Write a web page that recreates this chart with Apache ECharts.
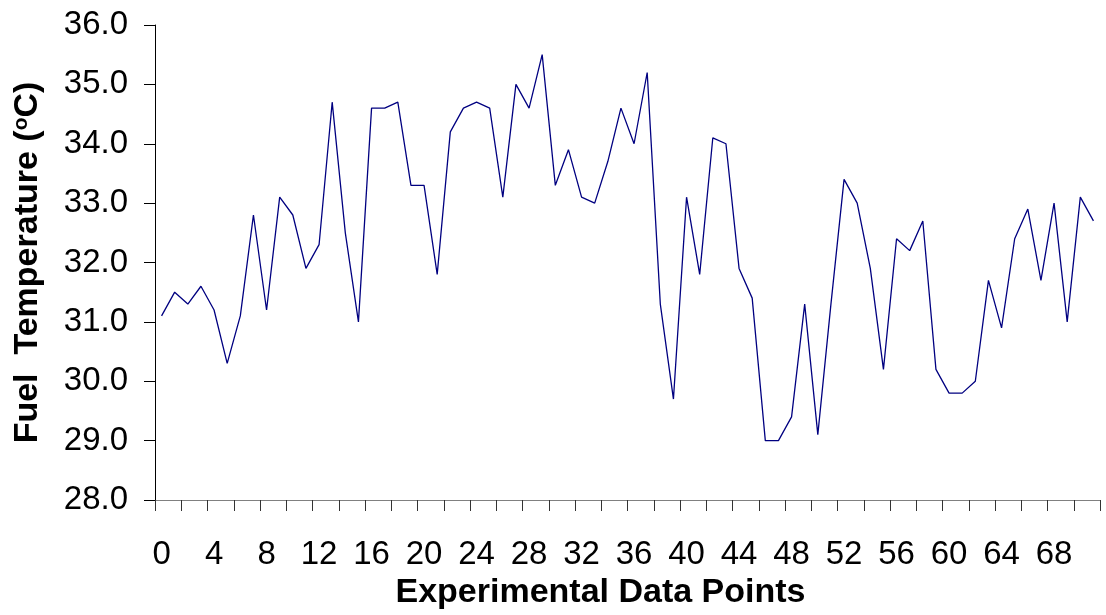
<!DOCTYPE html>
<html>
<head>
<meta charset="utf-8">
<title>Fuel Temperature</title>
<script src="https://cdn.jsdelivr.net/npm/echarts@6/dist/echarts.min.js"></script>
<style>
  html, body { margin: 0; padding: 0; background: #ffffff; }
  #chart { width: 1106px; height: 615px; }
</style>
</head>
<body>
<div id="chart"></div>
<script>
// Experimental data point indices (x categories)
const dataPoints = [
  '0','1','2','3','4','5','6','7','8','9','10','11','12','13','14','15','16','17',
  '18','19','20','21','22','23','24','25','26','27','28','29','30','31','32','33','34','35',
  '36','37','38','39','40','41','42','43','44','45','46','47','48','49','50','51','52','53',
  '54','55','56','57','58','59','60','61','62','63','64','65','66','67','68','69','70','71'
];

// Measured fuel temperature (°C) at each point
const fuelTemperature = [
  31.1, 31.5, 31.3, 31.6, 31.2, 30.3, 31.1, 32.8, 31.2, 33.1, 32.8, 31.9,
  32.3, 34.7, 32.5, 31.0, 34.6, 34.6, 34.7, 33.3, 33.3, 31.8, 34.2, 34.6,
  34.7, 34.6, 33.1, 35.0, 34.6, 35.5, 33.3, 33.9, 33.1, 33.0, 33.7, 34.6,
  34.0, 35.2, 31.3, 29.7, 33.1, 31.8, 34.1, 34.0, 31.9, 31.4, 29.0, 29.0,
  29.4, 31.3, 29.1, 31.3, 33.4, 33.0, 31.9, 30.2, 32.4, 32.2, 32.7, 30.2,
  29.8, 29.8, 30.0, 31.7, 30.9, 32.4, 32.9, 31.7, 33.0, 31.0, 33.1, 32.7
];

// Temperature axis range and step
const yMin = 28;
const yMax = 36;
const yStep = 1;

const chart = echarts.init(document.getElementById('chart'), null, { renderer: 'canvas' });

const fontFamily = 'Arial, "Liberation Sans", Helvetica, sans-serif';

chart.setOption({
  animation: false,
  backgroundColor: '#ffffff',
  grid: { left: 155, right: 6, top: 25, bottom: 115, containLabel: false },
  xAxis: {
    type: 'category',
    data: dataPoints,
    boundaryGap: true,
    name: 'Experimental Data Points',
    nameLocation: 'middle',
    nameGap: 72,
    nameTextStyle: {
      fontFamily: fontFamily, fontSize: 34, fontWeight: 'bold', color: '#000',
      padding: [0, 54, 0, 0]
    },
    axisLine: { show: true, lineStyle: { color: '#808080', width: 1 } },
    axisTick: { show: true, interval: 1, length: 11, inside: false, lineStyle: { color: '#333', width: 1 } },
    axisLabel: {
      interval: 3, margin: 38, fontFamily: fontFamily, fontSize: 33, color: '#000'
    },
    splitLine: { show: false }
  },
  yAxis: {
    type: 'value',
    min: yMin,
    max: yMax,
    interval: yStep,
    name: 'Fuel  Temperature ({sup|o}C)',
    nameLocation: 'middle',
    nameRotate: 90,
    nameGap: 110,
    nameTextStyle: {
      fontFamily: fontFamily, fontSize: 34, fontWeight: 'bold', color: '#000',
      rich: {
        sup: { fontFamily: fontFamily, fontSize: 21, fontWeight: 'bold', color: '#000', verticalAlign: 'top', padding: [0, 0, 12, 0] }
      }
    },
    axisLine: { show: true, lineStyle: { color: '#000', width: 1 } },
    axisTick: { show: true, length: 11, inside: false, lineStyle: { color: '#000', width: 1 } },
    axisLabel: {
      margin: 27, fontFamily: fontFamily, fontSize: 33, color: '#000',
      formatter: function (v) { return v.toFixed(1); }
    },
    splitLine: { show: false }
  },
  series: [{
    type: 'line',
    data: fuelTemperature,
    symbol: 'none',
    smooth: false,
    lineStyle: { color: '#000080', width: 1.3 },
    itemStyle: { color: '#000080' }
  }]
});
</script>
</body>
</html>
